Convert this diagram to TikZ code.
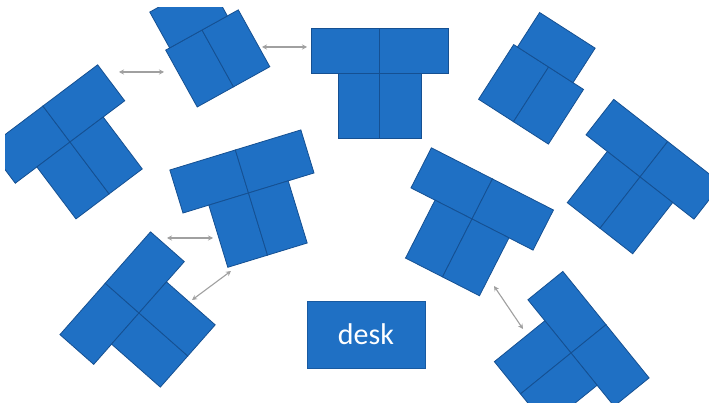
\documentclass[tikz,border=0pt]{standalone}
\usepackage{fontspec}
\setmainfont{Carlito}
\usetikzlibrary{arrows.meta}
\definecolor{tblue}{RGB}{31,112,196}
\definecolor{tedge}{RGB}{21,80,146}
\definecolor{agray}{RGB}{160,160,160}
\tikzset{
  desktab/.style={fill=tblue, draw=tedge, line width=0.8pt},
  deskbox/.style={fill=tblue, draw=tedge!70!tblue, line width=0.6pt, text=white,
    minimum width=118pt, minimum height=67pt, inner sep=0pt,
    font=\fontsize{30}{32}\selectfont},
  gap/.style={agray, line width=1.1pt, {Stealth[length=5pt,width=5pt]}-{Stealth[length=5pt,width=5pt]}}
}
% T group: junction (x,y) in pixels, angle in pixel degrees (clockwise positive)
\newcommand{\groupT}[3]{%
  \begin{scope}[shift={(#1,-#2)},rotate=-#3]
    \draw[desktab] (-68.5,0) rectangle (0,45);
    \draw[desktab] (0,0) rectangle (68.5,45);
    \draw[desktab] (-41.5,-65) rectangle (0,0);
    \draw[desktab] (0,-65) rectangle (41.5,0);
  \end{scope}}
% three-table group
\newcommand{\groupThree}[3]{%
  \begin{scope}[shift={(#1,-#2)},rotate=-#3]
    \draw[desktab] (-41.5,-65) rectangle (0,0);
    \draw[desktab] (0,-65) rectangle (41.5,0);
    \draw[desktab] (-37,0) rectangle (29,41);
  \end{scope}}
\begin{document}
\begin{tikzpicture}[x=1pt,y=1pt]
  \fill[white] (0,0) rectangle (709,-403);
  \useasboundingbox (0,0) rectangle (709,-403);
  \begin{scope}
    \clip (5,-8) rectangle (709,-403);
    \groupT{379.5}{73}{0}
    \groupThree{202}{30}{-29}
    \groupT{70}{142}{-37}
    \groupT{248.5}{193}{-17}
    \groupThree{548.6}{67}{32.7}
    \groupT{640}{177}{38}
    \groupT{472}{219}{27}
    \groupT{571}{353}{51}
    \groupT{139}{313}{-48.6}
  \end{scope}
  \node[deskbox] (desk) at (366,-334.5) {desk};
  % gap arrows
  \coordinate (g1a) at (119,-72);  \coordinate (g1b) at (164,-72);
  \coordinate (g2a) at (262,-47);  \coordinate (g2b) at (307,-47);
  \coordinate (g3a) at (167,-238); \coordinate (g3b) at (213,-238);
  \coordinate (g4a) at (192,-300); \coordinate (g4b) at (231,-271);
  \coordinate (g5a) at (494,-286); \coordinate (g5b) at (523,-329);
  \draw[gap] (g1a) -- (g1b);
  \draw[gap] (g2a) -- (g2b);
  \draw[gap] (g3a) -- (g3b);
  \draw[gap] (g4a) -- (g4b);
  \draw[gap] (g5a) -- (g5b);
\end{tikzpicture}
\end{document}
